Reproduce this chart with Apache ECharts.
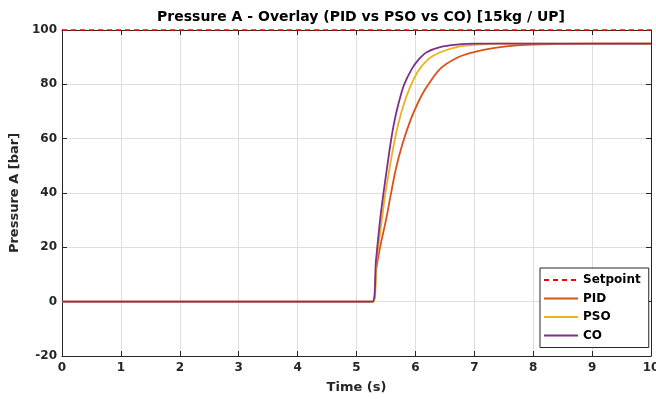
<!DOCTYPE html>
<html>
<head lang="en">
    <meta charset="UTF-8">
    <title>Pressure A - Overlay</title>
    <script type="text/javascript" src="https://cdn.jsdelivr.net/npm/echarts@6/dist/echarts.min.js"></script>
    <style>
        html, body { margin: 0; padding: 0; background: #fff; }
        #chart { width: 656px; height: 405px; }
    </style>
</head>
<body>
<div id="chart"></div>
<script type="text/javascript">
    // values
    var xTicks = [0, 1, 2, 3, 4, 5, 6, 7, 8, 9, 10];
    var yTicks = [-20, 0, 20, 40, 60, 80, 100];

    var setpointT = [0, 10];
    var setpointV = [100, 100];

    var pidT = [0, 5.28, 5.33, 5.40, 5.50, 5.57, 5.67, 5.78, 5.92, 6.05, 6.19, 6.42, 6.70, 6.98, 7.20, 7.44, 7.80, 8.50, 10];
    var pidV = [0, 0, 11, 20, 30, 38, 49, 58, 67, 73.5, 79, 85.7, 89.7, 91.8, 92.9, 93.7, 94.4, 94.9, 95];

    var psoT = [0, 5.28, 5.34, 5.43, 5.48, 5.56, 5.64, 5.71, 5.80, 5.91, 6.05, 6.22, 6.42, 6.70, 7.00, 7.40, 10];
    var psoV = [0, 0, 15, 30, 38.5, 49, 58.5, 65.5, 72.5, 79, 85, 89.3, 91.8, 93.7, 94.5, 95, 95];

    var coT = [0, 5.27, 5.33, 5.40, 5.455, 5.52, 5.58, 5.64, 5.72, 5.81, 5.94, 6.05, 6.19, 6.42, 6.70, 7.00, 10];
    var coV = [0, 0, 15, 30, 39.5, 49.5, 58.5, 66, 73.5, 80, 85.7, 89, 91.8, 93.7, 94.6, 95, 95];

    function pairs(t, v) {
        var out = [];
        for (var i = 0; i < t.length; i++) out.push([t[i], v[i]]);
        return out;
    }

    var FONT = 'DejaVu Sans, sans-serif';
    var INK = '#262626';

    var myChart = echarts.init(document.getElementById('chart'), null, {renderer: 'canvas'});

    var boxAxisLine = {show: true, onZero: false, lineStyle: {color: INK, width: 1}};
    var tickIn = {show: true, inside: true, length: 5, lineStyle: {color: INK}};

    myChart.setOption({
        animation: false,
        backgroundColor: '#ffffff',
        title: {
            text: 'Pressure A - Overlay (PID vs PSO vs CO) [15kg / UP]',
            left: 356, top: 5, textAlign: 'center',
            textStyle: {fontFamily: FONT, fontWeight: 'bold', fontSize: 14, color: '#000'}
        },
        grid: {left: 62, right: 5, top: 30, bottom: 49, containLabel: false, outerBoundsMode: 'none'},
        legend: {
            orient: 'vertical',
            left: 540, top: 268,
            itemWidth: 34, itemHeight: 14, itemGap: 6.5,
            padding: [6, 8, 6, 3],
            backgroundColor: '#ffffff',
            borderColor: INK, borderWidth: 1,
            itemStyle: {opacity: 0},
            textStyle: {fontFamily: FONT, fontWeight: 'bold', fontSize: 12, color: '#000'},
            data: ['Setpoint', 'PID', 'PSO', 'CO']
        },
        xAxis: [{
            type: 'value', min: 0, max: 10, interval: 1,
            name: 'Time (s)', nameLocation: 'middle', nameGap: 25,
            nameTextStyle: {fontFamily: FONT, fontWeight: 'bold', fontSize: 13, color: INK},
            axisLine: boxAxisLine, axisTick: tickIn,
            axisLabel: {
                fontFamily: FONT, fontWeight: 'bold', fontSize: 12, color: INK, margin: 6,
                formatter: function (v) { return xTicks.indexOf(v) >= 0 ? String(v) : ''; }
            },
            splitLine: {show: true, lineStyle: {color: '#dedede', width: 1}}
        }, {
            type: 'value', min: 0, max: 10, interval: 1, position: 'top',
            axisLine: boxAxisLine, axisTick: tickIn,
            axisLabel: {show: false}, splitLine: {show: false}
        }],
        yAxis: [{
            type: 'value', min: -20, max: 100, interval: 20,
            name: 'Pressure A [bar]', nameLocation: 'middle', nameGap: 38,
            nameTextStyle: {fontFamily: FONT, fontWeight: 'bold', fontSize: 13, color: INK},
            axisLine: boxAxisLine, axisTick: tickIn,
            axisLabel: {
                fontFamily: FONT, fontWeight: 'bold', fontSize: 12, color: INK, margin: 5,
                formatter: function (v) { return yTicks.indexOf(v) >= 0 ? String(v) : ''; }
            },
            splitLine: {show: true, lineStyle: {color: '#dedede', width: 1}}
        }, {
            type: 'value', min: -20, max: 100, interval: 20, position: 'right',
            axisLine: boxAxisLine, axisTick: tickIn,
            axisLabel: {show: false}, splitLine: {show: false}
        }],
        series: [{
            name: 'Setpoint', type: 'line', symbol: 'none', clip: false, z: 5,
            data: pairs(setpointT, setpointV),
            lineStyle: {color: '#ff0000', width: 1.5, type: [5, 4]},
            itemStyle: {color: '#ff0000'}
        }, {
            name: 'PID', type: 'line', symbol: 'none', smooth: 0.3,
            data: pairs(pidT, pidV),
            lineStyle: {color: '#d95319', width: 1.8},
            itemStyle: {color: '#d95319'}
        }, {
            name: 'PSO', type: 'line', symbol: 'none', smooth: 0.3,
            data: pairs(psoT, psoV),
            lineStyle: {color: '#edb120', width: 1.8},
            itemStyle: {color: '#edb120'}
        }, {
            name: 'CO', type: 'line', symbol: 'none', smooth: 0.3,
            data: pairs(coT, coV),
            lineStyle: {color: '#7e2f8e', width: 1.8},
            itemStyle: {color: '#7e2f8e'}
        }]
    });
</script>
</body>
</html>
